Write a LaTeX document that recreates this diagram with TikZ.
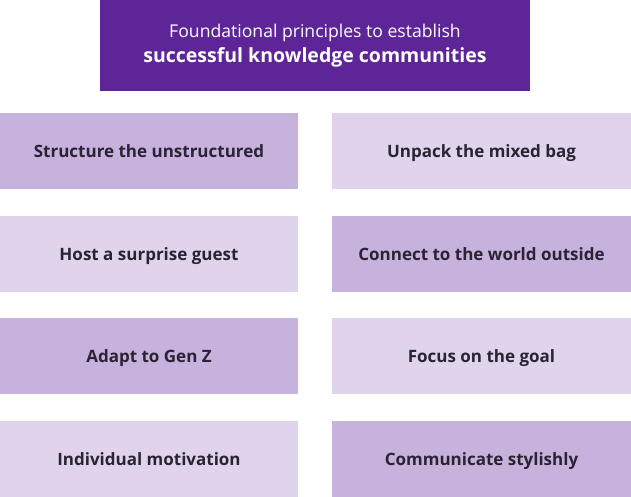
\documentclass[tikz,border=0pt]{standalone}
\usepackage{fontspec}
\setmainfont{Open Sans}
\definecolor{headpurple}{HTML}{5E2599}
\definecolor{boxdark}{HTML}{C6B2DC}
\definecolor{boxlight}{HTML}{E0D4EC}
\definecolor{textdark}{HTML}{2B2233}
\tikzset{
	principle/.style={minimum width=298pt,minimum height=76pt,inner sep=0pt,
		text height=13pt,text depth=0pt,
		text=textdark,font=\fontsize{17}{20}\selectfont\bfseries},
	header/.style={fill=headpurple,minimum width=430pt,minimum height=91pt,inner sep=0pt,
		text=white,align=center,font=\fontsize{17.6}{25}\selectfont}
}
\begin{document}
\begin{tikzpicture}[x=1pt,y=1pt]
	\useasboundingbox (0,0) rectangle (631,496);
	\node[header] (title) at (315,450.5)
		{Foundational principles to establish\\{\fontsize{19.5}{25}\selectfont\bfseries successful knowledge communities}};
	% left column, then right column
	\foreach \n/\y/\c/\t in {l1/345/boxdark/Structure the unstructured,
		l2/242.5/boxlight/Host a surprise guest,
		l3/140/boxdark/Adapt to Gen Z,
		l4/37.5/boxlight/Individual motivation}
		{\node[principle,fill=\c] (\n) at (149,\y) {\t};}
	\foreach \n/\y/\c/\t in {r1/345/boxlight/Unpack the mixed bag,
		r2/242.5/boxdark/Connect to the world outside,
		r3/140/boxlight/Focus on the goal,
		r4/37.5/boxdark/Communicate stylishly}
		{\node[principle,fill=\c,minimum width=299pt] (\n) at (481.5,\y) {\t};}
\end{tikzpicture}
\end{document}
